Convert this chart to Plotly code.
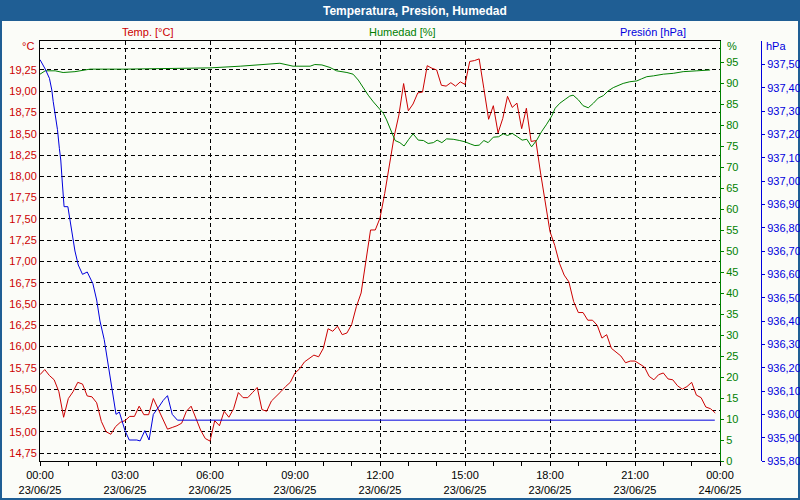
import pandas as pd
import plotly.graph_objects as go

# ---------------- data ----------------
start = "2025-06-23 00:00"
end = "2025-06-24 00:00"

# Temperature [°C], every 10 minutes from 00:00
temp_c = [15.67, 15.73, 15.66, 15.61, 15.47, 15.17, 15.39, 15.47, 15.58, 15.56,
          15.42, 15.41, 15.34, 15.12, 15.00, 14.97, 15.06, 15.11, 15.13, 15.18,
          15.18, 15.30, 15.20, 15.20, 15.39, 15.27, 15.16, 15.03, 15.05, 15.07,
          15.10, 15.24, 15.30, 15.16, 15.02, 14.92, 14.89, 15.13, 15.07, 15.24,
          15.17, 15.27, 15.46, 15.40, 15.40, 15.46, 15.52, 15.26, 15.24, 15.36,
          15.41, 15.47, 15.53, 15.58, 15.69, 15.74, 15.82, 15.86, 15.90, 15.88,
          15.98, 16.21, 16.18, 16.24, 16.14, 16.16, 16.26, 16.47, 16.63, 17.00,
          17.37, 17.37, 17.51, 17.80, 18.15, 18.47, 18.72, 19.09, 18.77, 18.85,
          18.98, 18.99, 19.30, 19.27, 19.25, 19.07, 19.06, 19.10, 19.06, 19.11,
          19.08, 19.35, 19.36, 19.38, 19.03, 18.67, 18.83, 18.51, 18.68, 18.94,
          18.81, 18.86, 18.56, 18.80, 18.41, 18.42, 18.04, 17.72, 17.35, 17.19,
          16.98, 16.84, 16.76, 16.53, 16.40, 16.40, 16.31, 16.31, 16.25, 16.10,
          16.14, 15.98, 15.93, 15.89, 15.81, 15.83, 15.83, 15.79, 15.76, 15.65,
          15.61, 15.67, 15.69, 15.62, 15.61, 15.54, 15.50, 15.53, 15.58, 15.43,
          15.40, 15.29, 15.27, 15.22]

# Humidity [%]: minutes after 00:00 and values
hum_min = [0, 11, 32, 49, 74, 106, 180, 275, 360, 424, 508, 536, 572, 582, 597,
           614, 628, 650, 663, 674, 685, 695, 706, 716, 727, 734, 743, 752, 762,
           771, 781, 790, 801, 812, 822, 833, 841, 851, 861, 875, 889, 900, 911,
           921, 930, 940, 949, 960, 971, 981, 990, 1000, 1011, 1021, 1031, 1041,
           1052, 1062, 1073, 1084, 1091, 1101, 1112, 1122, 1129, 1140, 1150, 1161,
           1172, 1182, 1193, 1203, 1214, 1225, 1235, 1249, 1264, 1274, 1285, 1299,
           1320, 1341, 1362, 1391, 1419]
hum_pct = [92.1, 92.9, 92.9, 92.5, 92.7, 93.3, 93.3, 93.5, 93.6, 94.0, 94.7, 94.0,
           94.0, 94.4, 94.3, 93.7, 92.9, 92.5, 92.1, 90.7, 88.7, 87.1, 85.5, 84.2,
           82.8, 81.2, 78.8, 76.3, 75.8, 75.0, 76.6, 77.9, 76.4, 76.3, 75.6, 75.8,
           76.4, 75.8, 76.7, 76.6, 76.3, 76.0, 75.5, 75.1, 75.2, 76.3, 75.8, 77.1,
           77.2, 77.9, 77.5, 78.0, 77.2, 76.4, 76.6, 74.8, 76.4, 78.4, 80.2, 82.2,
           84.0, 85.2, 86.1, 86.9, 87.1, 86.0, 84.6, 84.1, 85.2, 86.4, 87.0, 88.1,
           88.9, 89.5, 89.9, 90.3, 90.5, 91.0, 91.5, 91.7, 92.1, 92.3, 92.7, 92.9,
           93.1]

# Pressure [hPa]: minutes after 00:00 and values
pres_min = [0, 11, 20, 25, 28, 32, 37, 41, 44, 47, 49, 51, 59, 64, 69, 74, 81, 90,
            100, 112, 120, 127, 136, 147, 154, 161, 168, 175, 180, 189, 194, 205,
            212, 222, 231, 240, 251, 261, 270, 280, 291, 1429]
pres_hpa = [937.52, 937.48, 937.44, 937.39, 937.34, 937.29, 937.22, 937.14, 937.09,
            937.00, 936.93, 936.89, 936.89, 936.83, 936.76, 936.70, 936.64, 936.60,
            936.61, 936.56, 936.49, 936.40, 936.32, 936.18, 936.09, 936.00, 936.01,
            935.96, 935.93, 935.89, 935.89, 935.89, 935.886, 935.93, 935.89, 936.00,
            936.03, 936.06, 936.08, 936.00, 935.975, 935.975]

temp_ticks = [14.75, 15.00, 15.25, 15.50, 15.75, 16.00, 16.25, 16.50, 16.75, 17.00,
              17.25, 17.50, 17.75, 18.00, 18.25, 18.50, 18.75, 19.00, 19.25, 19.50]
hum_ticks = list(range(0, 100, 5))
pres_ticks = [935.8 + 0.1 * i for i in range(18)]

title = "Temperatura, Presión, Humedad"
label_temp = "Temp. [°C]"
label_hum = "Humedad [%]"
label_pres = "Presión [hPa]"

# ---------------- figure ----------------
t0 = pd.Timestamp(start)
temp_t = pd.date_range(t0, periods=len(temp_c), freq="10min")
hum_t = [t0 + pd.Timedelta(minutes=m) for m in hum_min]
pres_t = [t0 + pd.Timedelta(minutes=m) for m in pres_min]

RED = "#cc0000"
GREEN = "#008000"
BLUE = "#0000dd"
BG = "#fbfcf8"
FRAME = "#1f5e94"
FONT = "Liberation Sans"

W, H = 800, 500
ML, MR, MT, MB = 40, 39, 41, 39
PW = W - ML - MR
PH = H - MT - MB


def px(x):
    return (x - ML) / PW


def py(y):
    return 1 - (y - MT) / PH


fig = go.Figure()
fig.add_trace(go.Scatter(x=pres_t, y=pres_hpa, yaxis="y3", mode="lines",
                         line=dict(color=BLUE, width=1), showlegend=False,
                         name=label_pres))
fig.add_trace(go.Scatter(x=hum_t, y=hum_pct, yaxis="y2", mode="lines",
                         line=dict(color=GREEN, width=1), showlegend=False,
                         name=label_hum))
fig.add_trace(go.Scatter(x=temp_t, y=temp_c, yaxis="y", mode="lines",
                         line=dict(color=RED, width=1), showlegend=False,
                         name=label_temp))

dom_end = (720 - ML) / PW

fig.update_layout(
    width=W, height=H,
    margin=dict(l=ML, r=MR, t=MT, b=MB, pad=0, autoexpand=False),
    paper_bgcolor=FRAME,
    plot_bgcolor=BG,
    separators=",.",
    hovermode=False,
    font=dict(family=FONT, size=11, color="black"),
    xaxis=dict(
        type="date", domain=[0, dom_end], range=[start, end], automargin=False,
        dtick=3 * 3600 * 1000, tick0=start,
        tickformat="%H:%M<br>%d/%m/%y",
        showline=True, linecolor="black", linewidth=1, mirror=True,
        ticks="outside", ticklen=4, tickcolor="black",
        minor=dict(dtick=3600 * 1000, ticks="outside", ticklen=4,
                   tickcolor="black", showgrid=False),
        showgrid=True, gridcolor="black", gridwidth=1, griddash="4px,3px",
        zeroline=False, tickfont=dict(color="black", size=11),
    ),
    yaxis=dict(
        range=[14.656, 19.59], tickvals=temp_ticks, automargin=False,
        ticktext=[("%.2f" % v).replace(".", ",") if v < 19.4 else "" for v in temp_ticks],
        showline=True, linecolor="black", linewidth=1,
        ticks="", showgrid=True, gridcolor="black", gridwidth=1,
        griddash="4px,3px", zeroline=False,
        tickfont=dict(color=RED, size=11),
    ),
    yaxis2=dict(
        range=[0, 100], tickvals=hum_ticks, overlaying="y", side="right",
        anchor="x", showline=True, linecolor=GREEN, linewidth=1, automargin=False,
        ticks="outside", ticklen=3, tickcolor=GREEN, showgrid=False,
        zeroline=False, tickfont=dict(color=GREEN, size=11),
    ),
    yaxis3=dict(
        range=[935.8, 937.6], tickvals=pres_ticks, tickformat=".2f",
        overlaying="y", side="right", anchor="free", position=1, automargin=False,
        showline=True, linecolor=BLUE, linewidth=1,
        ticks="outside", ticklen=3, tickcolor=BLUE, showgrid=False,
        zeroline=False, tickfont=dict(color=BLUE, size=11),
    ),
    shapes=[
        dict(type="rect", xref="paper", yref="paper", layer="below",
             x0=px(2), x1=px(798), y0=py(21), y1=py(498),
             fillcolor=BG, line=dict(width=0)),
    ],
    annotations=[
        dict(text="<b>%s</b>" % title, x=px(415), y=py(10.5), xref="paper",
             yref="paper", showarrow=False, xanchor="center", yanchor="middle",
             font=dict(color="white", size=12, family=FONT)),
        dict(text=label_temp, x=px(147), y=py(31.5), xref="paper", yref="paper",
             showarrow=False, xanchor="center", yanchor="middle",
             font=dict(color=RED, size=11)),
        dict(text=label_hum, x=px(402), y=py(31.5), xref="paper", yref="paper",
             showarrow=False, xanchor="center", yanchor="middle",
             font=dict(color=GREEN, size=11)),
        dict(text=label_pres, x=px(653), y=py(31.5), xref="paper", yref="paper",
             showarrow=False, xanchor="center", yanchor="middle",
             font=dict(color=BLUE, size=11)),
        dict(text="°C", x=px(36), y=py(46), xref="paper", yref="paper",
             showarrow=False, xanchor="right", yanchor="middle",
             font=dict(color=RED, size=11)),
        dict(text="%", x=px(725), y=py(46), xref="paper", yref="paper",
             showarrow=False, xanchor="left", yanchor="middle",
             font=dict(color=GREEN, size=11)),
        dict(text="hPa", x=px(764), y=py(46), xref="paper", yref="paper",
             showarrow=False, xanchor="left", yanchor="middle",
             font=dict(color=BLUE, size=11)),
    ],
)

fig.write_html(
    "out.html",
    config={"displayModeBar": False, "staticPlot": True},
    post_script="document.body.style.margin='0';document.body.style.padding='0';"
                "document.body.style.overflow='hidden';",
)
